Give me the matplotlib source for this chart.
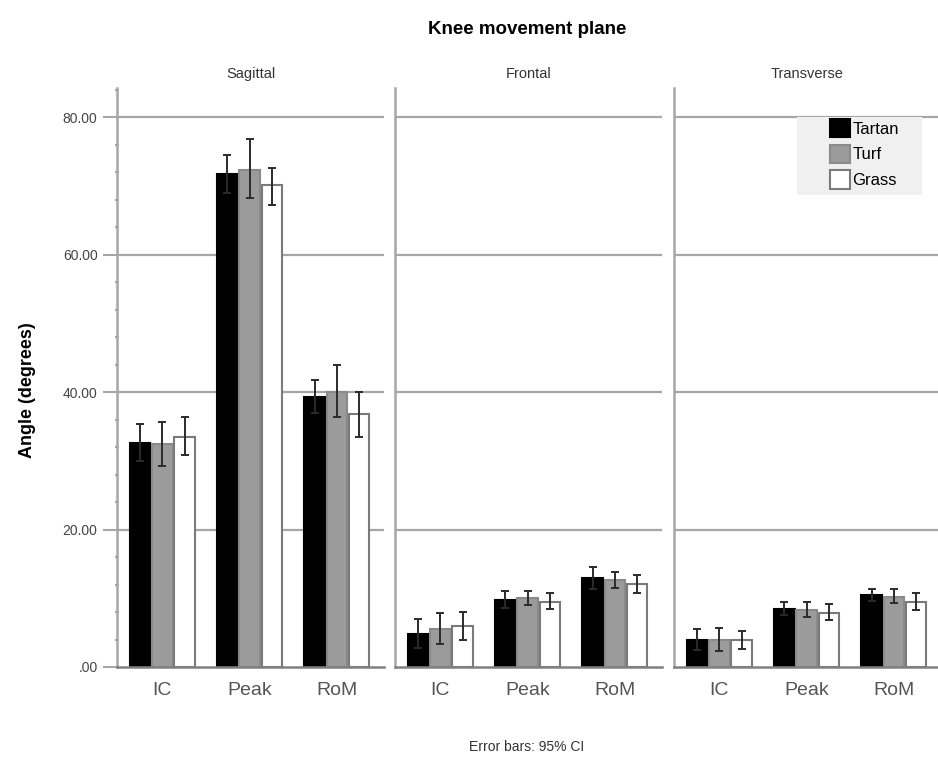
import matplotlib.pyplot as plt
import numpy as np
from matplotlib.patches import Patch, Rectangle

plt.rcParams['font.family'] = ['Liberation Sans', 'DejaVu Sans']

planes = ['Sagittal', 'Frontal', 'Transverse']
measures = ['IC', 'Peak', 'RoM']
surfaces = ['Tartan', 'Turf', 'Grass']

# means per plane: rows = surface, cols = measure (IC, Peak, RoM)
sagittal_mean = [[32.6, 71.7, 39.3], [32.4, 72.3, 40.0], [33.5, 70.1, 36.8]]
sagittal_lo = [[30.0, 69.0, 36.9], [29.3, 68.2, 36.4], [30.8, 67.2, 33.5]]
sagittal_hi = [[35.3, 74.5, 41.7], [35.6, 76.8, 43.9], [36.3, 72.6, 40.0]]

frontal_mean = [[4.8, 9.8, 12.9], [5.5, 10.0, 12.6], [6.0, 9.5, 12.1]]
frontal_lo = [[2.7, 8.6, 11.3], [3.3, 9.0, 11.5], [3.9, 8.4, 10.7]]
frontal_hi = [[7.0, 11.0, 14.5], [7.8, 11.0, 13.8], [8.0, 10.7, 13.4]]

transverse_mean = [[4.0, 8.5, 10.5], [4.0, 8.3, 10.2], [3.9, 7.9, 9.5]]
transverse_lo = [[2.5, 7.6, 9.6], [2.4, 7.3, 9.3], [2.6, 6.8, 8.3]]
transverse_hi = [[5.5, 9.4, 11.4], [5.7, 9.5, 11.3], [5.2, 9.1, 10.7]]

plane_data = [
    (sagittal_mean, sagittal_lo, sagittal_hi),
    (frontal_mean, frontal_lo, frontal_hi),
    (transverse_mean, transverse_lo, transverse_hi),
]

fills = ['#000000', '#9b9b9b', '#ffffff']
edges = ['#000000', '#8a8a8a', '#7a7a7a']
grid_col = '#a6a6a6'

W, H = 938, 758
fig = plt.figure(figsize=(W / 100, H / 100), dpi=100)
lefts = [117, 395, 674]
width_px = 267
bottom = 1 - 667 / H
top = 1 - 87.5 / H

x = np.arange(len(measures))
step, bw = 0.255, 0.235

axes = []
for i, (name, (mean, lo, hi)) in enumerate(zip(planes, plane_data)):
    ax = fig.add_axes([lefts[i] / W, bottom, width_px / W, top - bottom])
    axes.append(ax)
    ax.set_ylim(0, 84.3)
    ax.set_xlim(-0.52, 2.54)
    for yv in [20, 40, 60, 80]:
        ax.axhline(yv, color=grid_col, lw=1.6, zorder=0)
    for j in range(len(surfaces)):
        m = np.array(mean[j])
        err = np.array([m - np.array(lo[j]), np.array(hi[j]) - m])
        xs = x + (j - 1) * step
        ax.bar(xs, m, width=bw, color=fills[j], edgecolor=edges[j],
               linewidth=1.5, zorder=2)
        ax.errorbar(xs, m, yerr=err, fmt='none', ecolor='#2b2b2b',
                    elinewidth=1.4, capsize=3, capthick=1.4, zorder=3)
    for s in ['top', 'right']:
        ax.spines[s].set_visible(False)
    ax.spines['left'].set_color(grid_col)
    ax.spines['left'].set_linewidth(1.8)
    ax.spines['bottom'].set_color('#808080')
    ax.spines['bottom'].set_linewidth(1.8)
    ax.set_xticks(x)
    ax.set_xticklabels(measures, fontsize=14, color='#555555')
    ax.tick_params(axis='x', length=0, pad=11)
    ax.set_title(name, fontsize=10.5, color='#333333', pad=7)
    if i == 0:
        ax.set_yticks([0, 20, 40, 60, 80])
        ax.set_yticklabels(['.00', '20.00', '40.00', '60.00', '80.00'],
                           fontsize=10, color='#444444')
        ax.set_yticks(np.arange(4, 85, 4), minor=True)
        ax.tick_params(axis='y', which='major', length=10, width=1.5,
                       color=grid_col, pad=4)
        ax.tick_params(axis='y', which='minor', length=3, width=1.5,
                       color=grid_col, direction='inout')
        ax.set_ylabel('Angle (degrees)', fontsize=13, fontweight='bold')
        ax.yaxis.set_label_coords(-0.305, 0.478)
    else:
        ax.set_yticks([])

# legend background box
fig.patches.append(Rectangle((797 / W, 1 - 195 / H), 125 / W, 78 / H,
                             transform=fig.transFigure, facecolor='#f0f0f0',
                             edgecolor='none', zorder=5))
handles = [Patch(facecolor=f, edgecolor=e, linewidth=1.5) for f, e in zip(fills, edges)]
leg = fig.legend(handles, surfaces, loc='upper left',
                 bbox_to_anchor=(830 / W, 1 - 119 / H), fontsize=12,
                 frameon=False, handlelength=1.2, handleheight=1.3,
                 handletextpad=0.15, labelspacing=0.45, borderpad=0,
                 borderaxespad=0)
leg.set_zorder(6)

fig.text(527 / W, 1 - 30 / H, 'Knee movement plane', ha='center',
         va='center', fontsize=13.5, fontweight='bold')
fig.text(527 / W, 1 - 747 / H, 'Error bars: 95% CI', ha='center',
         va='center', fontsize=10, color='#333333')

fig.savefig('out.png', dpi=100)
